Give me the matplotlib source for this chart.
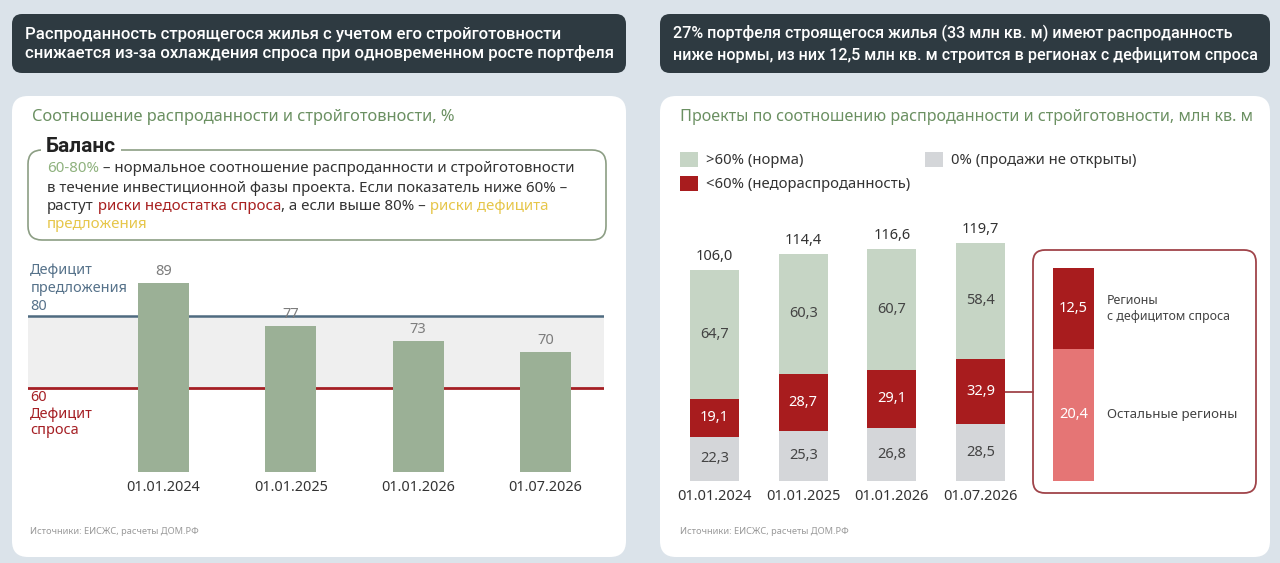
import matplotlib
matplotlib.use('Agg')
import matplotlib.pyplot as plt
from matplotlib.patches import FancyBboxPatch, Rectangle
from matplotlib.transforms import blended_transform_factory

plt.rcParams['font.family'] = ['Noto Sans', 'DejaVu Sans']
HEAD_FONT = ['Roboto', 'DejaVu Sans']

# ---------------- data ----------------
dates = ['01.01.2024', '01.01.2025', '01.01.2026', '01.07.2026']
ratio = [89, 77, 73, 70]
norm_low, norm_high = 60, 80

seg_closed = [22.3, 25.3, 26.8, 28.5]   # 0% (продажи не открыты)
seg_under = [19.1, 28.7, 29.1, 32.9]    # <60% (недораспроданность)
seg_norm = [64.7, 60.3, 60.7, 58.4]     # >60% (норма)
totals = [106.0, 114.4, 116.6, 119.7]

split_labels = ['Остальные регионы', 'Регионы\nс дефицитом спроса']
split_values = [20.4, 12.5]

legend_labels = ['>60% (норма)', '0% (продажи не открыты)', '<60% (недораспроданность)']

header_left = ('Распроданность строящегося жилья с учетом его стройготовности\n'
               'снижается из-за охлаждения спроса при одновременном росте портфеля')
header_right = ('27% портфеля строящегося жилья (33 млн кв. м) имеют распроданность\n'
                'ниже нормы, из них 12,5 млн кв. м строится в регионах с дефицитом спроса')
title_left = 'Соотношение распроданности и стройготовности, %'
title_right = 'Проекты по соотношению распроданности и стройготовности, млн кв. м'
source = 'Источники: ЕИСЖС, расчеты ДОМ.РФ'

# ---------------- colours ----------------
BG = '#dbe3ea'
DARK = '#2e3a41'
GREEN_T = '#6b9062'
SAGE = '#9bb096'
C_NORM = '#c6d5c5'
C_CLOSED = '#d4d6d9'
C_UNDER = '#a81c1e'
C_PINK = '#e57575'
LINE80 = '#4f6b80'
LINE60 = '#a51f24'
TXT = '#333333'


def fmt(v):
    return f'{v:.1f}'.replace('.', ',')


W, H = 1280, 563
fig = plt.figure(figsize=(12.8, 5.63), dpi=100)
fig.patch.set_facecolor(BG)

bg = fig.add_axes([0, 0, 1, 1])
bg.set_xlim(0, W)
bg.set_ylim(H, 0)
bg.axis('off')


def px_axes(x0, y0, x1, y1):
    a = fig.add_axes([x0 / W, 1 - y1 / H, (x1 - x0) / W, (y1 - y0) / H])
    a.set_facecolor('none')
    for s in a.spines.values():
        s.set_visible(False)
    return a


def rbox(x0, y0, x1, y1, r, fc, ec='none', lw=0):
    bg.add_patch(FancyBboxPatch((x0, y0), x1 - x0, y1 - y0,
                                boxstyle=f'round,pad=0,rounding_size={r}',
                                fc=fc, ec=ec, lw=lw))


# headers
rbox(12, 14, 626, 73, 10, DARK)
rbox(660, 14, 1270, 73, 10, DARK)
bg.text(25, 44, header_left, color='white', fontsize=12.1, fontweight='medium',
        family=HEAD_FONT, va='center', ha='left', linespacing=1.3)
bg.text(673, 44, header_right, color='white', fontsize=11.65, fontweight='medium',
        family=HEAD_FONT, va='center', ha='left', linespacing=1.33)

# panels
rbox(12, 96, 626, 557, 16, 'white')
rbox(660, 96, 1270, 557, 16, 'white')

bg.text(32, 117, title_left, color=GREEN_T, fontsize=11.85, va='center')
bg.text(680, 117, title_right, color=GREEN_T, fontsize=11.65, va='center')
bg.text(30, 531, source, color='#9a9a9a', fontsize=6.7, va='center')
bg.text(680, 531, source, color='#9a9a9a', fontsize=6.7, va='center')

# ---------------- balance box ----------------
rbox(28, 150, 606, 240, 14, 'none', ec='#8c9e84', lw=1.2)
bg.text(46, 146, 'Баланс', fontsize=15, fontweight='bold', color='#222222',
        family=HEAD_FONT, va='center', ha='left',
        bbox=dict(boxstyle='square,pad=0.25', fc='white', ec='none'))

BODY = 10.85
RED_T = '#a82020'
YEL_T = '#e6c64a'
LGREEN_T = '#8fb27e'


def rainbow(x, y, pieces):
    t = bg.text(x, y, pieces[0][0], color=pieces[0][1], fontsize=BODY, va='center')
    for s, c in pieces[1:]:
        t = bg.annotate(s, xy=(1, 0), xycoords=t, va='bottom', ha='left',
                        color=c, fontsize=BODY)


rainbow(47, 169, [('60-80%', LGREEN_T),
                  (' – нормальное соотношение распроданности и стройготовности', TXT)])
rainbow(47, 188, [('в течение инвестиционной фазы проекта. Если показатель ниже 60% –', TXT)])
rainbow(47, 207, [('растут', TXT), (' риски недостатка спроса', RED_T),
                  (', а если выше 80% –', TXT), (' риски дефицита', YEL_T)])
rainbow(47, 225, [('предложения', YEL_T)])

# ---------------- left chart ----------------
ax1 = px_axes(28, 250, 604, 472)
x = list(range(len(dates)))
ax1.set_xlim(-1.064, 3.46)
ax1.set_ylim(37, 98)
ax1.axhspan(norm_low, norm_high, color='#efefef', zorder=0, lw=0)
ax1.axhline(norm_high, color=LINE80, lw=1.8, zorder=1)
ax1.axhline(norm_low, color=LINE60, lw=2.0, zorder=1)
ax1.bar(x, ratio, width=0.4, color=SAGE, zorder=3)
for i, v in enumerate(ratio):
    ax1.annotate(str(v), xy=(i, v), xytext=(0, 3), textcoords='offset points',
                 ha='center', va='bottom', color='#7d7d7d', fontsize=10.5, zorder=4)
tr = blended_transform_factory(ax1.transAxes, ax1.transData)
ax1.annotate(f'Дефицит\nпредложения\n{norm_high}', xy=(0.004, norm_high), xycoords=tr,
             xytext=(0, 1), textcoords='offset points', ha='left', va='bottom',
             color='#56728a', fontsize=10.4, linespacing=1.27)
ax1.annotate(f'{norm_low}\nДефицит\nспроса', xy=(0.004, norm_low), xycoords=tr,
             xytext=(0, -1), textcoords='offset points', ha='left', va='top',
             color=LINE60, fontsize=10.4, linespacing=1.17)
ax1.set_xticks(x, dates)
ax1.set_yticks([])
ax1.tick_params(axis='x', length=0, pad=6, labelsize=10.4, labelcolor=TXT)

# ---------------- right chart ----------------
ax2 = px_axes(670, 220, 1020, 481)
ax2.set_xlim(-0.502, 3.445)
ax2.set_ylim(0, 131.2)
w2 = 0.55
bot_under = seg_closed
bot_norm = [a + b for a, b in zip(seg_closed, seg_under)]
ax2.bar(x, seg_closed, width=w2, color=C_CLOSED, zorder=2)
ax2.bar(x, seg_under, width=w2, bottom=bot_under, color=C_UNDER, zorder=2)
ax2.bar(x, seg_norm, width=w2, bottom=bot_norm, color=C_NORM, zorder=2)
for i in x:
    ax2.text(i, seg_closed[i] / 2, fmt(seg_closed[i]), ha='center', va='center',
             color='#444444', fontsize=10.5)
    ax2.text(i, bot_under[i] + seg_under[i] / 2, fmt(seg_under[i]), ha='center',
             va='center', color='white', fontsize=10.5)
    ax2.text(i, bot_norm[i] + seg_norm[i] / 2, fmt(seg_norm[i]), ha='center',
             va='center', color='#444444', fontsize=10.5)
    ax2.annotate(fmt(totals[i]), xy=(i, bot_norm[i] + seg_norm[i]), xytext=(0, 4),
                 textcoords='offset points', ha='center', va='bottom',
                 color=TXT, fontsize=10.5)
ax2.set_xticks(x, dates)
ax2.set_yticks([])
ax2.tick_params(axis='x', length=0, pad=6, labelsize=10.5, labelcolor=TXT)

# legend
leg_items = [(680, 152, C_NORM, legend_labels[0]),
             (925, 152, C_CLOSED, legend_labels[1]),
             (680, 176, C_UNDER, legend_labels[2])]
for lx, ly, c, lab in leg_items:
    bg.add_patch(Rectangle((lx, ly), 18, 15, color=c, lw=0))
    bg.text(lx + 26, ly + 8, lab, color=TXT, fontsize=10.7, va='center')

# bracket box + inset
rbox(1033, 250, 1256, 493, 12, 'none', ec='#a0444a', lw=1.3)
ax3 = px_axes(1038, 260, 1109, 481)
ax3.set_xlim(-0.5, 0.5)
ax3.set_ylim(0, 34.14)
w3 = 0.58
ax3.bar([0], [split_values[0]], width=w3, color=C_PINK)
ax3.bar([0], [split_values[1]], width=w3, bottom=[split_values[0]], color=C_UNDER)
ax3.text(0, split_values[0] / 2, fmt(split_values[0]), ha='center', va='center',
         color='white', fontsize=10.5)
ax3.text(0, split_values[0] + split_values[1] / 2, fmt(split_values[1]), ha='center',
         va='center', color='white', fontsize=10.5)
ax3.annotate(split_labels[0], xy=(w3 / 2, split_values[0] / 2), xytext=(9, 0),
             textcoords='offset points', ha='left', va='center', color='#444444',
             fontsize=9.6, annotation_clip=False)
ax3.annotate(split_labels[1], xy=(w3 / 2, split_values[0] + split_values[1] / 2),
             xytext=(9, 0), textcoords='offset points', ha='left', va='center',
             color='#444444', fontsize=8.9, linespacing=1.3, annotation_clip=False)
ax3.set_xticks([])
ax3.set_yticks([])

# connector from last under-sold segment to bracket box
p = ax2.transData.transform((x[-1] + w2 / 2, bot_under[-1] + seg_under[-1] / 2))
bx, by = bg.transData.inverted().transform(p)
bg.plot([bx, 1033], [by, by], color='#a0444a', lw=1.3)

fig.savefig('out.png', dpi=100, facecolor=BG)
